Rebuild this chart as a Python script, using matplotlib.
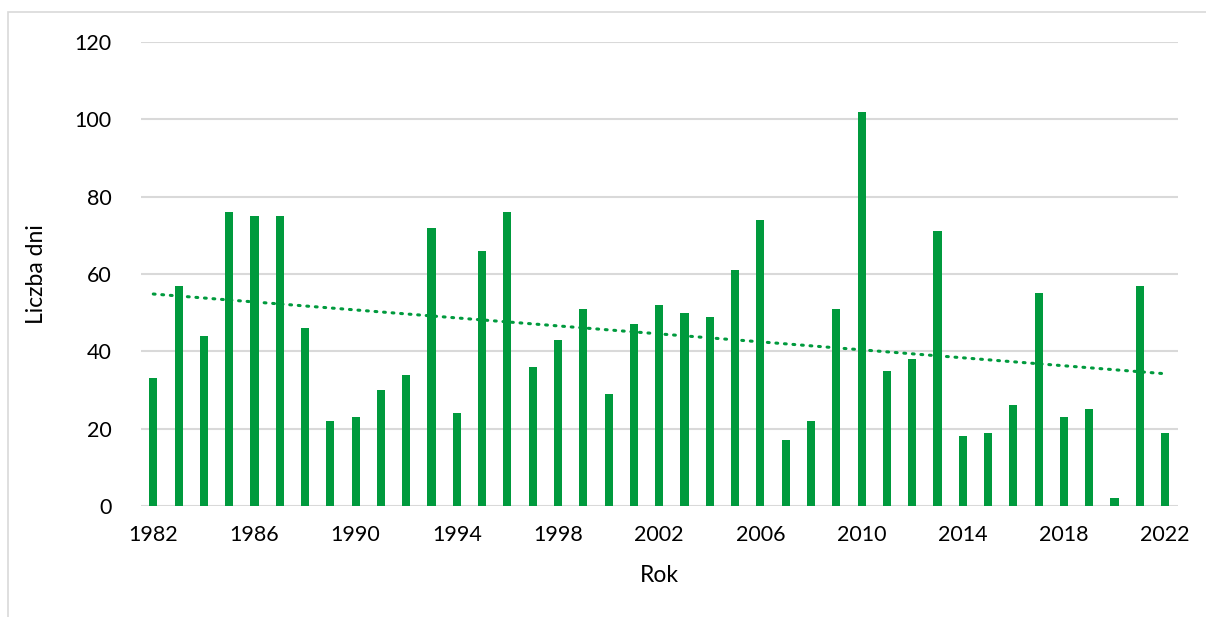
import matplotlib.pyplot as plt
import numpy as np
from matplotlib.patches import Rectangle

# dane: liczba dni w kolejnych latach
years = list(range(1982, 2023))
days = [33, 57, 44, 76, 75, 75, 46, 22, 23, 30,
        34, 72, 24, 66, 76, 36, 43, 51, 29, 47,
        52, 50, 49, 61, 74, 17, 22, 51, 102, 35,
        38, 71, 18, 19, 26, 55, 23, 25, 2, 57, 19]
tick_years = list(range(1982, 2023, 4))
y_ticks = [0, 20, 40, 60, 80, 100, 120]

green = '#009A3D'
grid_gray = '#D9D9D9'

plt.rcParams['font.family'] = ['Lato', 'DejaVu Sans']

fig = plt.figure(figsize=(12.06, 6.17), dpi=100)
ax = fig.add_axes([0.1166, 0.1799, 0.86, 0.7521])

# ramka wykresu
fig.patches.append(Rectangle((8 / 1206, -0.1), 1.2, 1 - 12 / 617 + 0.1,
                             transform=fig.transFigure, fill=False,
                             edgecolor=grid_gray, linewidth=1.2))

x = np.arange(len(years))
ax.bar(x, days, width=0.32, color=green, zorder=3)

# linia trendu
coef = np.polyfit(x, days, 1)
ax.plot(x, np.polyval(coef, x), color=green, linewidth=2.2,
        linestyle=(0, (0.6, 2.2)), dash_capstyle='round', zorder=4)

ax.set_xlim(-0.5, len(years) - 0.5)
ax.set_ylim(0, 120)
ax.set_yticks(y_ticks)
ax.set_xticks([years.index(y) for y in tick_years])
ax.set_xticklabels([str(y) for y in tick_years])
ax.grid(axis='y', color=grid_gray, linewidth=1.5, zorder=0)
ax.tick_params(length=0, labelsize=15.5, colors='black', pad=14)
ax.tick_params(axis='y', pad=21)
for s in ax.spines.values():
    s.set_visible(False)

ax.set_xlabel('Rok', fontsize=16.5, labelpad=14)
ax.set_ylabel('Liczba dni', fontsize=16.5, labelpad=20)

fig.savefig('out.png', dpi=100)
